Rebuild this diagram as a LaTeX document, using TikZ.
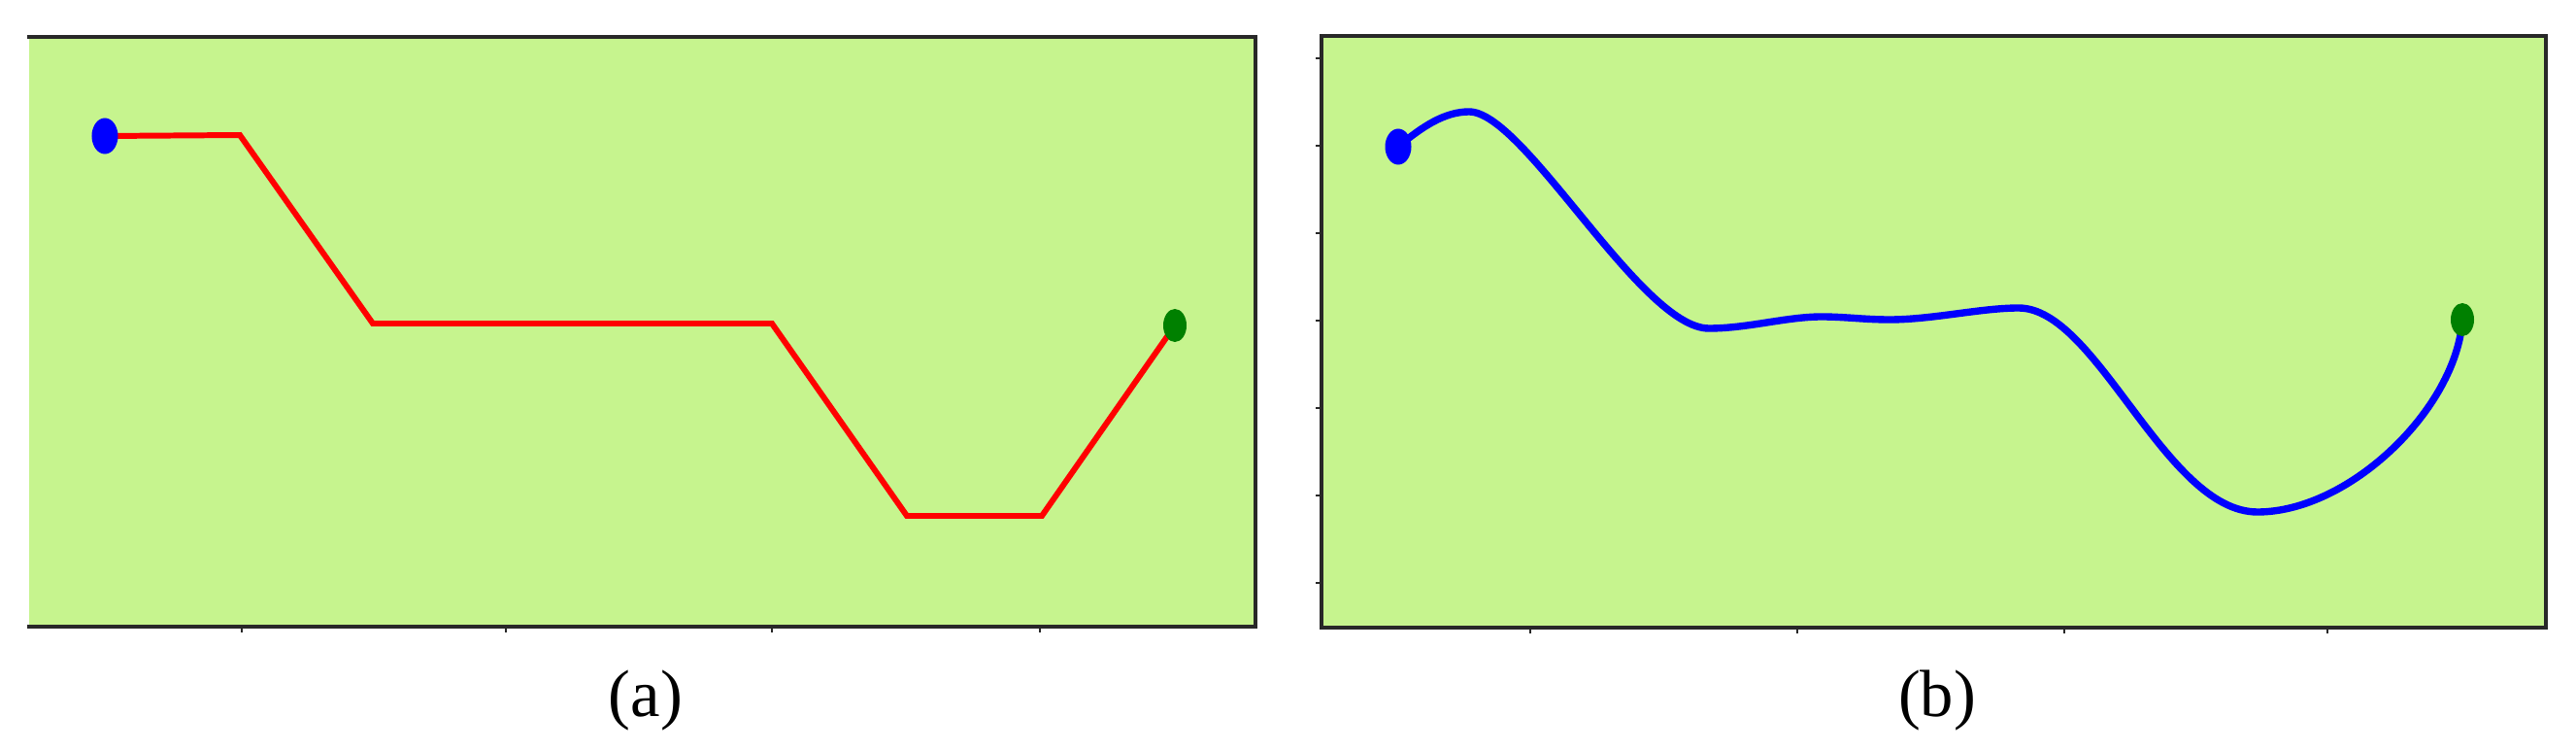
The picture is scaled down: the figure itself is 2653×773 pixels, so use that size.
\documentclass[tikz,border=0pt]{standalone}
\usepackage{fontspec}
\setmainfont{Liberation Serif}
\usetikzlibrary{shapes.geometric}
\definecolor{bg}{RGB}{198,244,142}
\definecolor{framecol}{RGB}{40,40,40}
\definecolor{dotgreen}{RGB}{0,128,0}
\tikzset{
  panel/.style={fill=bg, draw=none},
  frameline/.style={draw=framecol, line width=0.9pt, line cap=rect, line join=miter},
  tickmark/.style={draw=framecol, line width=0.6pt},
  startdot/.style={ellipse, fill=blue, minimum width=0.27cm, minimum height=0.37cm, inner sep=0pt},
  enddot/.style={ellipse, fill=dotgreen, minimum width=0.24cm, minimum height=0.34cm, inner sep=0pt},
  redpath/.style={draw=red, line width=1.7pt, line join=miter},
  bluepath/.style={draw=blue, line width=2.1pt, line cap=round},
  caption/.style={font=\fontsize{19.5}{22}\selectfont, inner sep=0pt}
}
\begin{document}
\begin{tikzpicture}[x=0.01cm,y=-0.01cm]
\useasboundingbox (0,0) rectangle (2653,773);
% ---------- panel (a)
\fill[panel] (30,38) rectangle (1293,645);
\draw[frameline] (30,38) -- (1293,38) -- (1293,645) -- (30,645);
\foreach \x in {249,521,795,1071} { \draw[tickmark] (\x,645) -- (\x,651); }
\coordinate (pa0) at (108,140);
\coordinate (pa1) at (247,139);
\coordinate (pa2) at (384,333);
\coordinate (pa3) at (795,333);
\coordinate (pa4) at (934,531);
\coordinate (pa5) at (1073,531);
\coordinate (pa6) at (1210,335);
\draw[redpath] (pa0) -- (pa1) -- (pa2) -- (pa3) -- (pa4) -- (pa5) -- (pa6);
\node[startdot] (sa) at (pa0) {};
\node[enddot] (ea) at (pa6) {};
\node[caption] (capa) at (665,721) {(a)};
% ---------- panel (b)
\fill[panel] (1361,37) rectangle (2622,646);
\draw[frameline] (1361,37) rectangle (2622,646);
\foreach \x in {1576,1851,2126,2397} { \draw[tickmark] (\x,646) -- (\x,652); }
\foreach \y in {60,150,240,330,420,510,600} { \draw[tickmark] (1361,\y) -- (1355,\y); }
\coordinate (pb0) at (1440,151);
\coordinate (pb1) at (2536,329);
\draw[bluepath] (pb0)
  .. controls (1465,130) and (1488,115) .. (1513,115)
  .. controls (1570,115) and (1690,338) .. (1760,338)
  .. controls (1800,338) and (1840,326) .. (1876,326)
  .. controls (1900,326) and (1920,329) .. (1946,329)
  .. controls (1990,329) and (2040,317) .. (2079,317)
  .. controls (2160,317) and (2230,527) .. (2325,527)
  .. controls (2420,527) and (2530,420) .. (pb1);
\node[startdot] (sb) at (pb0) {};
\node[enddot] (eb) at (pb1) {};
\node[caption] (capb) at (1995,721) {(b)};
\end{tikzpicture}
\end{document}
